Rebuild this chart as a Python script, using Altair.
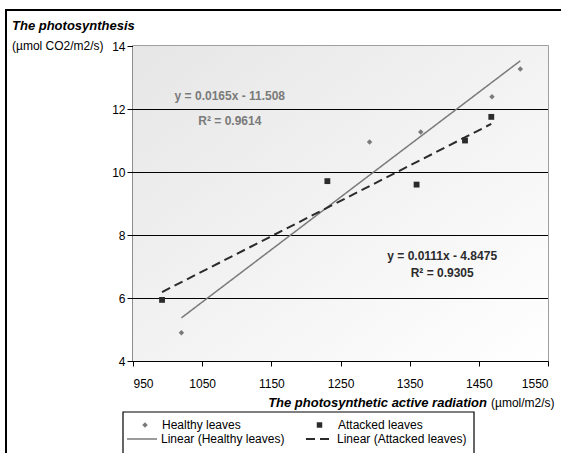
import altair as alt
import pandas as pd

# ---- data ----
series_names = ["Healthy leaves", "Attacked leaves"]
healthy_x = [1020, 1292, 1366, 1469, 1510]
healthy_y = [4.90, 10.95, 11.27, 12.39, 13.27]
attacked_x = [992, 1231, 1360, 1430, 1468]
attacked_y = [5.94, 9.71, 9.60, 11.00, 11.75]

x_ticks = [950, 1050, 1150, 1250, 1350, 1450, 1550]
y_ticks = [4, 6, 8, 10, 12, 14]
grid_values = [6, 8, 10, 12]

eq_texts = ["y = 0.0165x - 11.508", "R² = 0.9614", "y = 0.0111x - 4.8475", "R² = 0.9305"]
eq_x = [1090, 1090, 1397, 1397]
eq_y = [12.41, 11.61, 7.34, 6.80]
eq_series = ["Healthy leaves", "Healthy leaves", "Attacked leaves", "Attacked leaves"]

FONT = "Liberation Sans Narrow, Arial Narrow, Liberation Sans, sans-serif"
W, H = 415, 315
C_HEALTHY = "#7a7a7a"
C_ATTACKED = "#2b2b2b"

points = pd.DataFrame({
    "x": healthy_x + attacked_x,
    "y": healthy_y + attacked_y,
    "series": [series_names[0]] * len(healthy_x) + [series_names[1]] * len(attacked_x),
})
grid_df = pd.DataFrame({"v": grid_values})
eq_df = pd.DataFrame({"x": eq_x, "y": eq_y, "text": eq_texts, "series": eq_series})

xscale = alt.Scale(domain=[950, 1550], nice=False, zero=False)
yscale = alt.Scale(domain=[4, 14], nice=False, zero=False)
color_scale = alt.Scale(domain=series_names, range=[C_HEALTHY, C_ATTACKED])

xaxis = alt.Axis(values=x_ticks, title=None, tickSize=5, labelPadding=12, format="d",
                 grid=False, domainColor="black", tickColor="black", domainWidth=1.2,
                 labelColor="black", labelFont=FONT, labelFontSize=12)
yaxis = alt.Axis(values=y_ticks, title=None, tickSize=6, labelPadding=2, format="d",
                 grid=False, domainColor="black", tickColor="black", domainWidth=1.2,
                 labelColor="black", labelFont=FONT, labelFontSize=12)

one = alt.Data(values=[{}])

# background gradient
bg = alt.Chart(one).mark_rect(
    color=alt.Gradient(gradient="linear",
                       stops=[alt.GradientStop(color="#e6e6e6", offset=0),
                              alt.GradientStop(color="#ffffff", offset=1)],
                       x1=0, y1=0, x2=1, y2=1)
).encode(x=alt.value(0), x2=alt.value(W), y=alt.value(0), y2=alt.value(H))

grid = alt.Chart(grid_df).mark_rule(color="black", strokeWidth=1, yOffset=0.5).encode(
    y=alt.Y("v:Q", scale=yscale, axis=yaxis)
)

trend = alt.Chart(points).transform_regression(
    "x", "y", groupby=["series"]
).mark_line().encode(
    x=alt.X("x:Q", scale=xscale, axis=xaxis),
    y=alt.Y("y:Q", scale=yscale, axis=yaxis),
    color=alt.Color("series:N", scale=color_scale, legend=None),
    strokeDash=alt.StrokeDash("series:N", scale=alt.Scale(domain=series_names, range=[[1, 0], [9, 5]]), legend=None),
    strokeWidth=alt.StrokeWidth("series:N", scale=alt.Scale(domain=series_names, range=[1.5, 2]), legend=None),
)

pts = alt.Chart(points).mark_point(filled=True, opacity=1).encode(
    x=alt.X("x:Q", scale=xscale, axis=xaxis),
    y=alt.Y("y:Q", scale=yscale, axis=yaxis),
    color=alt.Color("series:N", scale=color_scale, legend=None),
    shape=alt.Shape("series:N", scale=alt.Scale(domain=series_names, range=["diamond", "square"]), legend=None),
    size=alt.Size("series:N", scale=alt.Scale(domain=series_names, range=[30, 34]), legend=None),
)

eqs = alt.Chart(eq_df).mark_text(font=FONT, fontSize=12, fontWeight="bold", baseline="middle").encode(
    x=alt.X("x:Q", scale=xscale, axis=xaxis),
    y=alt.Y("y:Q", scale=yscale, axis=yaxis),
    text="text:N",
    color=alt.Color("series:N", scale=color_scale, legend=None),
)

def label(txt, x, y, align="left", bold=False, italic=False, size=12):
    kw = dict(font=FONT, fontSize=size, align=align, baseline="middle", color="black")
    if bold:
        kw["fontWeight"] = "bold"
    if italic:
        kw["fontStyle"] = "italic"
    return alt.Chart(one).mark_text(**kw).encode(
        x=alt.value(x), y=alt.value(y), text=alt.value(txt))

# titles
y_title1 = label("The photosynthesis", -121, -20, bold=True, italic=True, size=13)
y_title2 = label("(µmol CO2/m2/s)", -121, 0)
x_title1 = label("The photosynthetic active radiation", 354, 357, align="right", bold=True, italic=True, size=13)
x_title2 = label("(µmol/m2/s)", 358, 357)

# outer frame
frame = alt.Chart(one).mark_rect(fillOpacity=0, stroke="black", strokeWidth=2).encode(
    x=alt.value(-127), x2=alt.value(W + 80), y=alt.value(-36), y2=alt.value(H + 150))

# legend
leg_box = alt.Chart(one).mark_rect(fill="white", stroke="black", strokeWidth=1.2).encode(
    x=alt.value(-10), x2=alt.value(341), y=alt.value(366), y2=alt.value(H + 120))
leg_d = alt.Chart(one).mark_point(filled=True, opacity=1, shape="diamond", size=30, color=C_HEALTHY).encode(
    x=alt.value(12), y=alt.value(379))
leg_s = alt.Chart(one).mark_point(filled=True, opacity=1, shape="square", size=30, color=C_ATTACKED).encode(
    x=alt.value(186.5), y=alt.value(379))
leg_l1 = alt.Chart(one).mark_rule(color=C_HEALTHY, strokeWidth=1.5).encode(
    x=alt.value(-6), x2=alt.value(24), y=alt.value(393))
leg_l2 = alt.Chart(one).mark_rule(color=C_ATTACKED, strokeWidth=2, strokeDash=[9, 5]).encode(
    x=alt.value(173), x2=alt.value(201), y=alt.value(393))
leg_t1 = label("Healthy leaves", 29, 379)
leg_t2 = label("Attacked leaves", 205, 379)
leg_t3 = label("Linear (Healthy leaves)", 28, 393)
leg_t4 = label("Linear (Attacked leaves)", 204, 393)

chart = alt.layer(
    bg, grid, trend, pts, eqs, y_title1, y_title2, x_title1, x_title2,
    frame, leg_box, leg_d, leg_s, leg_l1, leg_l2, leg_t1, leg_t2, leg_t3, leg_t4
).properties(
    width=W, height=H,
    autosize=alt.AutoSizeParams(type="none"),
    padding={"left": 133, "top": 46, "right": 561 - 133 - W, "bottom": 453 - 46 - H},
    background="white",
).configure_view(stroke="#808080", strokeWidth=1.5)

chart.save("out.html", embed_options={"renderer": "svg", "actions": False})
